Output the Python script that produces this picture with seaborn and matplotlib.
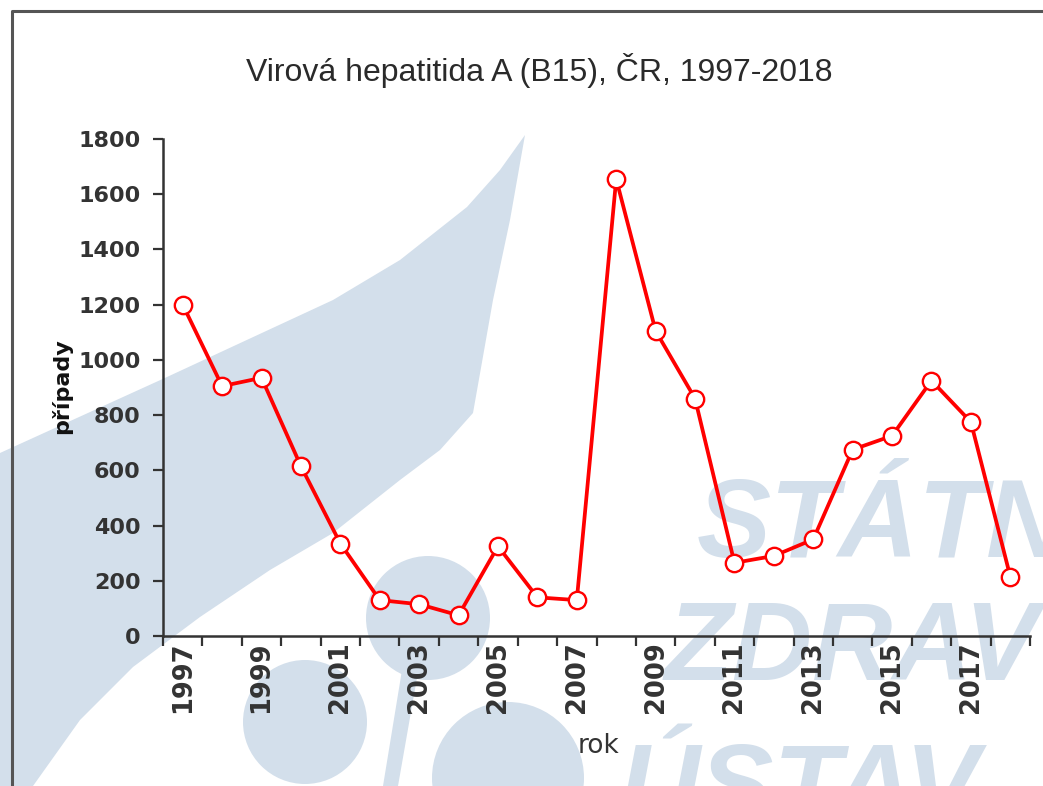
import matplotlib
matplotlib.use("Agg")
import matplotlib.pyplot as plt
import seaborn as sns
import pandas as pd
from matplotlib.patches import Polygon, Ellipse
from matplotlib.lines import Line2D

# data: Virova hepatitida A, pocet pripadu podle roku
roky = list(range(1997, 2019))
pripady = [1200, 905, 935, 615, 335, 130, 115, 75, 325, 140, 130,
           1655, 1105, 860, 265, 290, 350, 675, 725, 925, 775, 215]
popisky_x = [str(r) for r in range(1997, 2018, 2)]
hodnoty_y = list(range(0, 1801, 200))

df = pd.DataFrame({"rok": roky, "případy": pripady})

W, H = 1043, 786
MODRA = "#d3dfeb"
TMAVA = "#333333"


def px(x, y):
    """pixel (od leveho horniho rohu) -> souradnice obrazku"""
    return (x / W, 1 - y / H)


sns.set_theme(style="ticks")
plt.rcParams["font.family"] = ["DejaVu Sans"]

fig = plt.figure(figsize=(W / 100, H / 100), dpi=100)
fig.patch.set_facecolor("white")

# vodoznak SZU na pozadi
horni = [(0, 453), (167, 377), (333, 300), (400, 260), (467, 207), (500, 170), (525, 135)]
dolni = [(510, 220), (493, 300), (473, 413), (440, 450), (400, 480), (333, 533),
         (270, 570), (200, 617), (133, 667), (80, 720), (33, 786), (0, 786)]
fig.add_artist(Polygon([px(*p) for p in horni + dolni], closed=True,
                       transform=fig.transFigure, facecolor=MODRA,
                       edgecolor="none", zorder=-5))
for cx, cy, r in [(428, 618, 62), (305, 722, 62), (508, 778, 76)]:
    fig.add_artist(Ellipse(px(cx, cy), 2 * r / W, 2 * r / H,
                           transform=fig.transFigure, facecolor=MODRA,
                           edgecolor="none", zorder=-5))
fig.add_artist(Polygon([px(402, 670), px(418, 672), px(398, 786), px(383, 786)],
                       closed=True, transform=fig.transFigure, facecolor=MODRA,
                       edgecolor="none", zorder=-5))
for txt, x, y in [("STÁTNÍ", 697, 557), ("ZDRAVOTNÍ", 665, 680), ("ÚSTAV", 620, 822)]:
    fig.text(*px(x, y), txt, fontsize=80, fontweight="bold", fontstyle="italic",
             family=["Liberation Sans", "DejaVu Sans"], color=MODRA,
             ha="left", va="baseline", zorder=-4)

# ramecek
fig.add_artist(Line2D([px(12, 786)[0], px(12, 11)[0], 1.0],
                      [px(12, 786)[1], px(12, 11)[1], px(12, 11)[1]],
                      transform=fig.transFigure, color="#555555", linewidth=2.2,
                      zorder=5))

ax = fig.add_axes([163 / W, 1 - 636 / H, (1030 - 163) / W, (636 - 139) / H])
ax.set_facecolor("none")

sns.lineplot(data=df, x="rok", y="případy", ax=ax, color="#ff0000",
             linewidth=2.7, marker="o", markersize=12.5,
             markerfacecolor="white", markeredgecolor="#ff0000",
             markeredgewidth=1.7)

ax.set_xlim(roky[0] - 0.5, roky[-1] + 0.5)
ax.set_ylim(0, 1800)
ax.set_yticks(hodnoty_y)
ax.set_yticklabels([str(v) for v in hodnoty_y], fontsize=16, fontweight="bold",
                   color=TMAVA)
ax.set_xticks([int(s) for s in popisky_x])
ax.set_xticklabels(popisky_x, rotation=90, fontsize=18.5, fontweight="bold",
                   color=TMAVA)
ax.set_xticks([r - 0.5 for r in roky] + [roky[-1] + 0.5], minor=True)
ax.tick_params(axis="x", which="major", length=0, pad=4)
ax.tick_params(axis="x", which="minor", length=7, width=1.6, color=TMAVA,
               direction="out")
ax.tick_params(axis="y", length=7, width=1.6, color=TMAVA, pad=9)

for s in ["top", "right"]:
    ax.spines[s].set_visible(False)
for s in ["left", "bottom"]:
    ax.spines[s].set_linewidth(1.8)
    ax.spines[s].set_color(TMAVA)

ax.set_xlabel("")
ax.set_ylabel("")
fig.text(*px(62, 386), "případy", rotation=90, fontsize=16, fontweight="bold",
         color="#111111", ha="center", va="center")
fig.text(*px(598, 746), "rok", fontsize=19, color=TMAVA, ha="center", va="center")
fig.text(*px(539, 70), "Virová hepatitida A (B15), ČR, 1997-2018", fontsize=23,
         family=["Liberation Sans", "DejaVu Sans"], color="#2a2a2a",
         ha="center", va="center")

fig.savefig("out.png", dpi=100)
